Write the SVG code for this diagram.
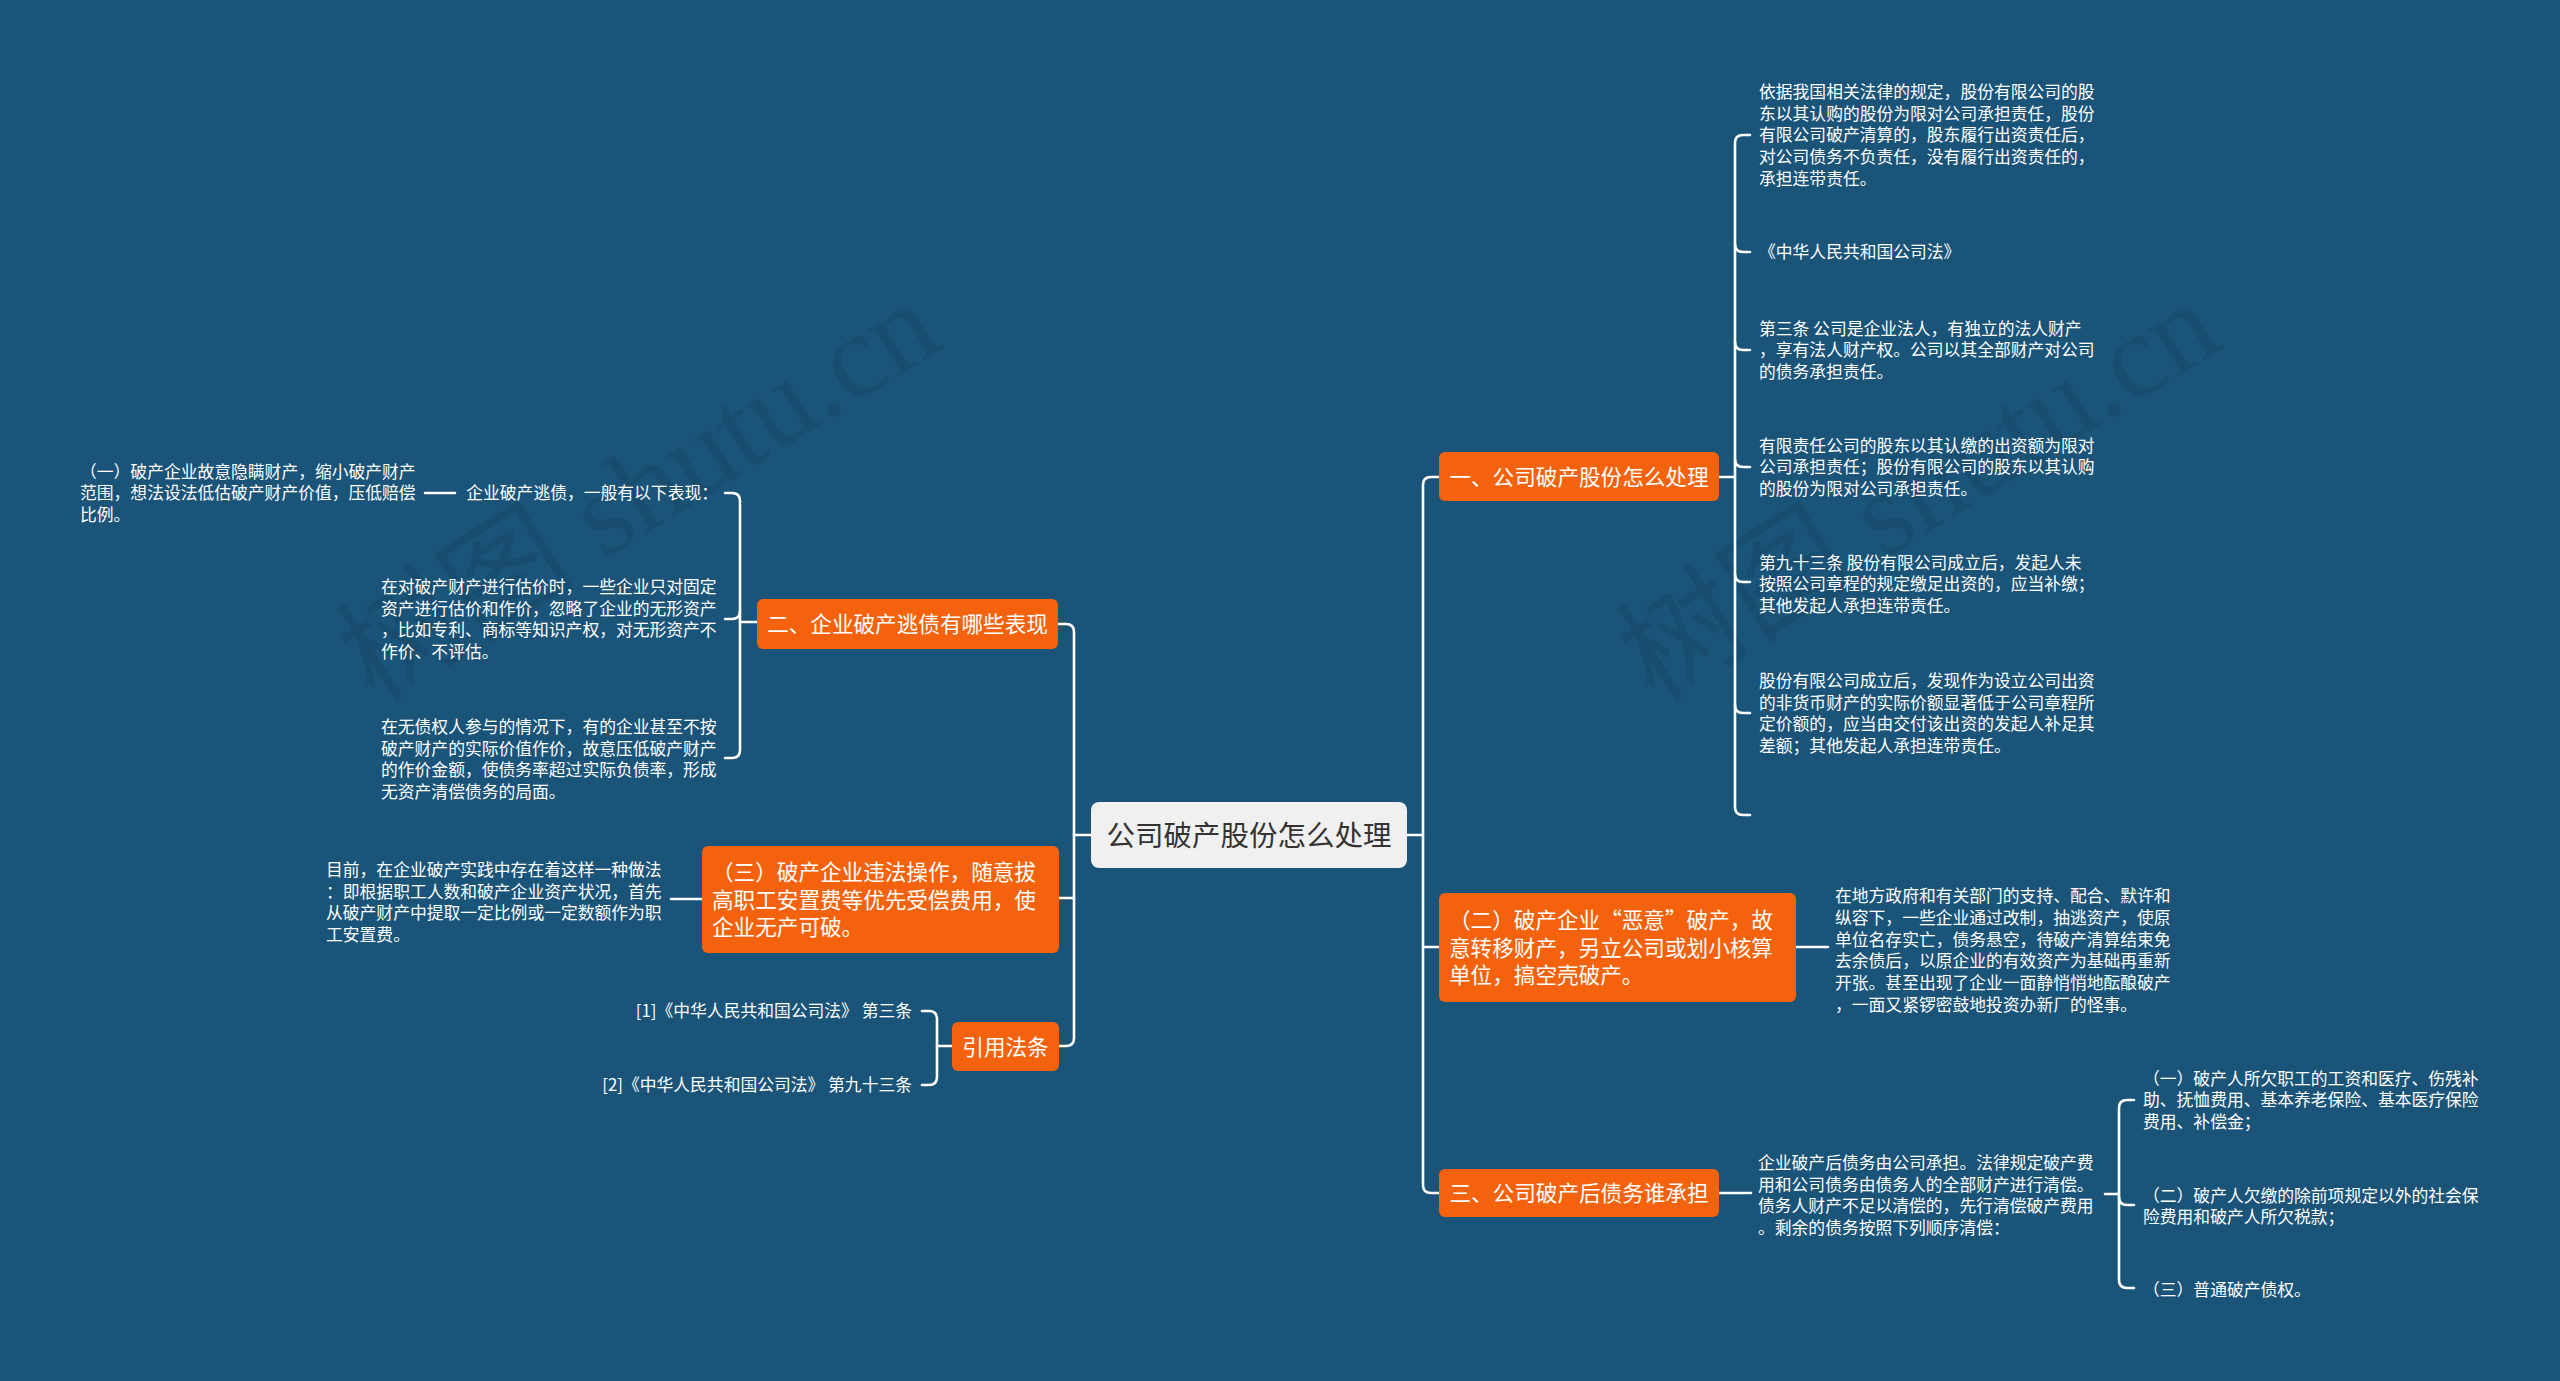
<svg xmlns="http://www.w3.org/2000/svg" width="2560" height="1381" viewBox="0 0 2560 1381">
<style>
.t{font-family:"Noto Sans CJK SC","Microsoft YaHei",sans-serif;font-size:16.8px;fill:#ffffff}
.bt{font-family:"Noto Sans CJK SC","Microsoft YaHei",sans-serif;font-size:21.6px;fill:#ffffff}
.rt{font-family:"Noto Sans CJK SC","Microsoft YaHei",sans-serif;font-size:28.5px;fill:#333333}
.box{fill:#f5620d}
.c{stroke:#ffffff;stroke-width:2.6;fill:none;stroke-linecap:round}
.wm{font-family:"Liberation Serif","Noto Sans CJK SC",serif;font-size:120px;fill:#000000;opacity:0.07}
.e{text-anchor:end}
.m{text-anchor:middle}
</style>
<rect x="0" y="0" width="2560" height="1381" fill="#1a5479"/>
<g id="watermarks">
<text class="wm m" transform="translate(660,525) rotate(-32)">树图 shutu.cn</text>
<text class="wm m" transform="translate(1940,525) rotate(-32)">树图 shutu.cn</text>
</g>
<g id="connectors">
<path class="c" d="M1091,835 H1074"/>
<path class="c" d="M1058,624 H1066 Q1074,624 1074,632 V1038 Q1074,1046 1066,1046 H1059"/>
<path class="c" d="M1059,898 H1074"/>
<path class="c" d="M1407,835 H1423"/>
<path class="c" d="M1439,477 H1431 Q1423,477 1423,485 V1185 Q1423,1193 1431,1193 H1439"/>
<path class="c" d="M1423,947 H1439"/>
<path class="c" d="M1719,477 H1735"/>
<path class="c" d="M1750,135 H1743 Q1735,135 1735,143 V807 Q1735,815 1743,815 H1750"/>
<path class="c" d="M1735,244 Q1735,252 1743,252 H1750"/>
<path class="c" d="M1735,342 Q1735,350 1743,350 H1750"/>
<path class="c" d="M1735,459 Q1735,467 1743,467 H1750"/>
<path class="c" d="M1735,574 Q1735,582 1743,582 H1750"/>
<path class="c" d="M1735,705 Q1735,713 1743,713 H1750"/>
<path class="c" d="M1796,947 H1828"/>
<path class="c" d="M1719,1193 H1751"/>
<path class="c" d="M2105,1194 H2119"/>
<path class="c" d="M2134,1100 H2127 Q2119,1100 2119,1108 V1280 Q2119,1288 2127,1288 H2134"/>
<path class="c" d="M2119,1197 Q2119,1205 2127,1205 H2134"/>
<path class="c" d="M757,622 H740"/>
<path class="c" d="M725,493 H732 Q740,493 740,501 V750 Q740,758 732,758 H725"/>
<path class="c" d="M740,611 Q740,619 732,619 H725"/>
<path class="c" d="M425,493 H455"/>
<path class="c" d="M702,899 H671"/>
<path class="c" d="M952,1046 H937"/>
<path class="c" d="M922,1011 H929 Q937,1011 937,1019 V1077 Q937,1085 929,1085 H922"/>
</g>
<g id="root">
<rect x="1091" y="802" width="316" height="66" rx="8" fill="#f0f0f0"/>
<text class="rt m" x="1249" y="845.8">公司破产股份怎么处理</text>
</g>
<g id="b1">
<rect class="box" x="1439" y="452" width="280" height="49" rx="6"/>
<text class="bt m" x="1579" y="484.7">一、公司破产股份怎么处理</text>
</g>
<g id="b1c1">
<text class="t" x="1759" y="98">依据我国相关法律的规定，股份有限公司的股</text>
<text class="t" x="1759" y="119.7">东以其认购的股份为限对公司承担责任，股份</text>
<text class="t" x="1759" y="141.4">有限公司破产清算的，股东履行出资责任后，</text>
<text class="t" x="1759" y="163.1">对公司债务不负责任，没有履行出资责任的，</text>
<text class="t" x="1759" y="184.8">承担连带责任。</text>
</g>
<g id="b1c2">
<text class="t" x="1759" y="258.4">《中华人民共和国公司法》</text>
</g>
<g id="b1c3">
<text class="t" x="1759" y="334.7">第三条 公司是企业法人，有独立的法人财产</text>
<text class="t" x="1759" y="356.4">，享有法人财产权。公司以其全部财产对公司</text>
<text class="t" x="1759" y="378.1">的债务承担责任。</text>
</g>
<g id="b1c4">
<text class="t" x="1759" y="451.7">有限责任公司的股东以其认缴的出资额为限对</text>
<text class="t" x="1759" y="473.4">公司承担责任；股份有限公司的股东以其认购</text>
<text class="t" x="1759" y="495.1">的股份为限对公司承担责任。</text>
</g>
<g id="b1c5">
<text class="t" x="1759" y="568.7">第九十三条 股份有限公司成立后，发起人未</text>
<text class="t" x="1759" y="590.4">按照公司章程的规定缴足出资的，应当补缴；</text>
<text class="t" x="1759" y="612.1">其他发起人承担连带责任。</text>
</g>
<g id="b1c6">
<text class="t" x="1759" y="686.9">股份有限公司成立后，发现作为设立公司出资</text>
<text class="t" x="1759" y="708.6">的非货币财产的实际价额显著低于公司章程所</text>
<text class="t" x="1759" y="730.3">定价额的，应当由交付该出资的发起人补足其</text>
<text class="t" x="1759" y="752">差额；其他发起人承担连带责任。</text>
</g>
<g id="b2">
<rect class="box" x="1439" y="893" width="357" height="109" rx="6"/>
<text class="bt" x="1449" y="928.2">（二）破产企业“恶意”破产，故</text>
<text class="bt" x="1449" y="955.7">意转移财产，另立公司或划小核算</text>
<text class="bt" x="1449" y="983.2">单位，搞空壳破产。</text>
</g>
<g id="b2c1">
<text class="t" x="1835" y="902.2">在地方政府和有关部门的支持、配合、默许和</text>
<text class="t" x="1835" y="923.9">纵容下，一些企业通过改制，抽逃资产，使原</text>
<text class="t" x="1835" y="945.6">单位名存实亡，债务悬空，待破产清算结束免</text>
<text class="t" x="1835" y="967.3">去余债后，以原企业的有效资产为基础再重新</text>
<text class="t" x="1835" y="989">开张。甚至出现了企业一面静悄悄地酝酿破产</text>
<text class="t" x="1835" y="1010.7">，一面又紧锣密鼓地投资办新厂的怪事。</text>
</g>
<g id="b3">
<rect class="box" x="1439" y="1169" width="280" height="48" rx="6"/>
<text class="bt m" x="1579" y="1201.2">三、公司破产后债务谁承担</text>
</g>
<g id="b3c1">
<text class="t" x="1758" y="1168.9">企业破产后债务由公司承担。法律规定破产费</text>
<text class="t" x="1758" y="1190.6">用和公司债务由债务人的全部财产进行清偿。</text>
<text class="t" x="1758" y="1212.3">债务人财产不足以清偿的，先行清偿破产费用</text>
<text class="t" x="1758" y="1234">。剩余的债务按照下列顺序清偿：</text>
</g>
<g id="b3d1">
<text class="t" x="2143" y="1084.7">（一）破产人所欠职工的工资和医疗、伤残补</text>
<text class="t" x="2143" y="1106.4">助、抚恤费用、基本养老保险、基本医疗保险</text>
<text class="t" x="2143" y="1128.1">费用、补偿金；</text>
</g>
<g id="b3d2">
<text class="t" x="2143" y="1201.6">（二）破产人欠缴的除前项规定以外的社会保</text>
<text class="t" x="2143" y="1223.3">险费用和破产人所欠税款；</text>
</g>
<g id="b3d3">
<text class="t" x="2143" y="1296.4">（三）普通破产债权。</text>
</g>
<g id="l1">
<rect class="box" x="757" y="599" width="301" height="50" rx="6"/>
<text class="bt m" x="907.5" y="632.2">二、企业破产逃债有哪些表现</text>
</g>
<g id="l1a">
<text class="t e" x="718" y="499.4">企业破产逃债，一般有以下表现：</text>
</g>
<g id="l1a1">
<text class="t" x="80" y="477.7">（一）破产企业故意隐瞒财产，缩小破产财产</text>
<text class="t" x="80" y="499.4">范围，想法设法低估破产财产价值，压低赔偿</text>
<text class="t" x="80" y="521.1">比例。</text>
</g>
<g id="l1b">
<text class="t" x="381" y="592.9">在对破产财产进行估价时，一些企业只对固定</text>
<text class="t" x="381" y="614.6">资产进行估价和作价，忽略了企业的无形资产</text>
<text class="t" x="381" y="636.3">，比如专利、商标等知识产权，对无形资产不</text>
<text class="t" x="381" y="658">作价、不评估。</text>
</g>
<g id="l1c">
<text class="t" x="381" y="732.9">在无债权人参与的情况下，有的企业甚至不按</text>
<text class="t" x="381" y="754.6">破产财产的实际价值作价，故意压低破产财产</text>
<text class="t" x="381" y="776.3">的作价金额，使债务率超过实际负债率，形成</text>
<text class="t" x="381" y="798">无资产清偿债务的局面。</text>
</g>
<g id="l2">
<rect class="box" x="702" y="846" width="357" height="107" rx="6"/>
<text class="bt" x="712" y="880.2">（三）破产企业违法操作，随意拔</text>
<text class="bt" x="712" y="907.7">高职工安置费等优先受偿费用，使</text>
<text class="bt" x="712" y="935.2">企业无产可破。</text>
</g>
<g id="l2a">
<text class="t" x="326" y="875.9">目前，在企业破产实践中存在着这样一种做法</text>
<text class="t" x="326" y="897.6">：即根据职工人数和破产企业资产状况，首先</text>
<text class="t" x="326" y="919.3">从破产财产中提取一定比例或一定数额作为职</text>
<text class="t" x="326" y="941">工安置费。</text>
</g>
<g id="l3">
<rect class="box" x="952" y="1022" width="107" height="49" rx="6"/>
<text class="bt m" x="1005.5" y="1054.7">引用法条</text>
</g>
<g id="l3a">
<text class="t e" x="912" y="1017.4">[1]《中华人民共和国公司法》 第三条</text>
</g>
<g id="l3b">
<text class="t e" x="912" y="1091.4">[2]《中华人民共和国公司法》 第九十三条</text>
</g>
</svg>
